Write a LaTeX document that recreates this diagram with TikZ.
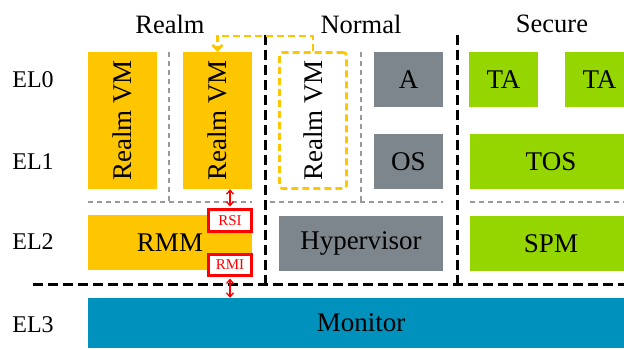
\documentclass[tikz,border=0pt]{standalone}
\usepackage{fontspec}
\setmainfont{Liberation Serif}
\usetikzlibrary{arrows.meta}
\definecolor{realmc}{HTML}{FEC600}
\definecolor{normc}{HTML}{7D868C}
\definecolor{secc}{HTML}{95D600}
\definecolor{monc}{HTML}{0091BD}
\definecolor{sepgray}{HTML}{999999}
\definecolor{redc}{HTML}{FF0000}
\begin{document}
\begin{tikzpicture}[x=1pt,y=-1pt,
  box/.style={rectangle, inner sep=0pt, draw=none, text=black, font=\fontsize{27}{32}\selectfont},
  lbl/.style={inner sep=0pt, font=\fontsize{26.5}{32}\selectfont},
  ellbl/.style={inner sep=0pt, font=\fontsize{24}{28}\selectfont},
  iface/.style={rectangle, inner sep=0pt, draw=redc, line width=3pt, fill=white, text=redc, font=\fontsize{15}{18}\selectfont},
  worldsep/.style={black, line width=3pt, dash pattern=on 10pt off 5pt},
  levelsep/.style={sepgray, line width=2pt, dash pattern=on 5pt off 4pt},
  realmdash/.style={realmc, line width=2.7pt, dash pattern=on 7pt off 4pt},
  redarrow/.style={redc, line width=1.3pt, {Straight Barb[length=4pt,width=7pt]}-{Straight Barb[length=4pt,width=7pt]}}
]
\useasboundingbox (0,0) rectangle (624,349);
\clip (0,0) rectangle (624,349);

% titles
\node[lbl] (trealm) at (170,24) {Realm};
\node[lbl] (tnormal) at (361,24) {Normal};
\node[lbl] (tsecure) at (552,24) {Secure};

% EL labels
\node[ellbl] (el0) at (33,80) {EL0};
\node[ellbl] (el1) at (33,162) {EL1};
\node[ellbl] (el2) at (33,242) {EL2};
\node[ellbl] (el3) at (33,325) {EL3};

% level separators (gray)
\draw[levelsep] (169,52) -- (169,202);
\draw[levelsep] (88,202) -- (252,202);
\draw[levelsep] (361,52) -- (361,202);
\draw[levelsep] (270,202) -- (443,202);
\draw[levelsep] (470,202) -- (624,202);

% Realm world
\node[box, fill=realmc, minimum width=69pt, minimum height=137pt] (rvm1) at (122.5,120.5) {\rotatebox{90}{Realm VM}};
\node[box, fill=realmc, minimum width=69pt, minimum height=137pt] (rvm2) at (217.5,120.5) {\rotatebox{90}{Realm VM}};
\node[box, fill=realmc, minimum width=164pt, minimum height=55pt] (rmm) at (170,242.5) {RMM};

% Normal world
\node[box, realmdash, draw=realmc, text=black, rounded corners=3pt, minimum width=67pt, minimum height=136pt] (rvm3) at (313,120.5) {\rotatebox{90}{Realm VM}};
\node[box, fill=normc, minimum width=69pt, minimum height=55pt] (appa) at (408.5,79.5) {A};
\node[box, fill=normc, minimum width=69pt, minimum height=55pt] (os) at (408.5,161.5) {OS};
\node[box, fill=normc, minimum width=164pt, minimum height=55pt] (hyp) at (361,243.5) {Hypervisor};

% Secure world
\node[box, fill=secc, minimum width=69pt, minimum height=55pt] (ta1) at (503.5,79.5) {TA};
\node[box, fill=secc, minimum width=69pt, minimum height=55pt] (ta2) at (599.5,79.5) {TA};
\node[box, fill=secc, minimum width=162pt, minimum height=55pt] (tos) at (551,161.5) {TOS};
\node[box, fill=secc, minimum width=162pt, minimum height=55pt] (spm) at (551,243.5) {SPM};

% Monitor
\node[box, fill=monc, minimum width=546pt, minimum height=50pt] (mon) at (361,323) {Monitor};

% world separators (black)
\draw[worldsep] (265,35) -- (265,284);
\draw[worldsep] (457,35) -- (457,284);
\draw[worldsep] (33,284) -- (624,284);

% interfaces
\node[iface, minimum width=43pt, minimum height=22pt] (rsi) at (230,220.5) {RSI};
\node[iface, minimum width=43pt, minimum height=21pt] (rmi) at (230,265) {RMI};
\draw[redarrow] (rvm2.south -| rsi.north) -- ([yshift=1.5pt]rsi.north);
\draw[redarrow] ([yshift=-1.5pt]rmi.south) -- (mon.north -| rmi.south);

% realm VM migration arrow
\coordinate (ctop) at (313,36);
\draw[realmdash, -{Straight Barb[length=5pt,width=10pt]}] (rvm3.north) -- (ctop) -| (rvm2.north);
\end{tikzpicture}
\end{document}
